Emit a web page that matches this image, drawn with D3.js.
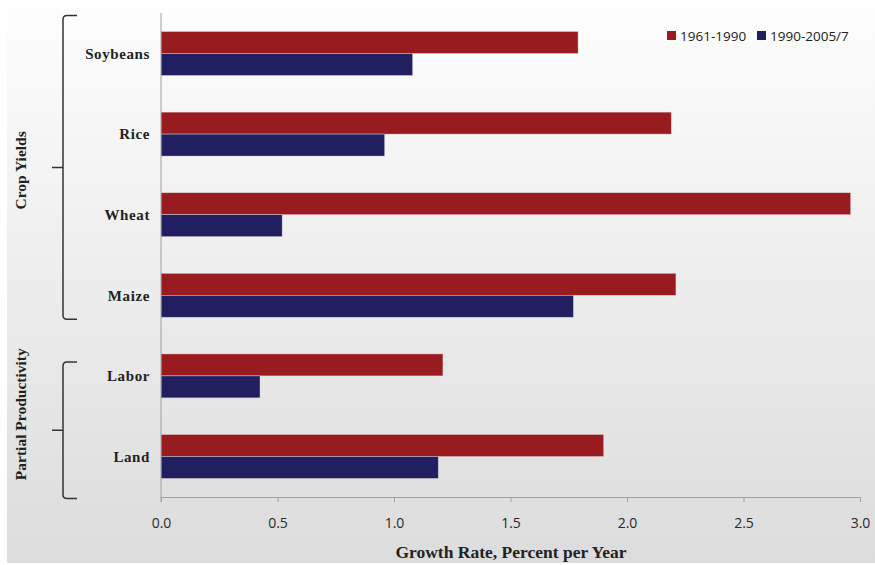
<!DOCTYPE html>
<html><head><meta charset="utf-8">
<script src="https://cdn.jsdelivr.net/npm/d3@7"></script>
<style>html,body{margin:0;padding:0;background:#fff}</style>
</head><body>
<svg id="c" width="875" height="565"></svg>
<script>
const categories = ["Soybeans","Rice","Wheat","Maize","Labor","Land"];
const series = ["1961-1990","1990-2005/7"];
const values1961 = [1.79, 2.19, 2.96, 2.21, 1.21, 1.90];
const values1990 = [1.08, 0.96, 0.52, 1.77, 0.425, 1.19];
const xTicks = [0, 0.5, 1.0, 1.5, 2.0, 2.5, 3.0];
const groups = [{name:"Crop Yields", from:"Soybeans", to:"Maize"},{name:"Partial Productivity", from:"Labor", to:"Land"}];
const colors = ["#981b20","#211f5f"];

(function(){
const svg = d3.select("#c");
const W=875,H=565;
const defs = svg.append("defs");
const g = defs.append("linearGradient").attr("id","bg").attr("x1",0).attr("y1",0).attr("x2",0).attr("y2",1);
g.append("stop").attr("offset","0%").attr("stop-color","#fefefe");
g.append("stop").attr("offset","100%").attr("stop-color","#dcdcdc");
svg.append("rect").attr("x",7).attr("y",0).attr("width",W-7).attr("height",563).attr("fill","url(#bg)");

const mL=161, mR=860, mT=13, mB=497;
const x = d3.scaleLinear().domain([0,3]).range([mL,mR]);
const y = d3.scaleBand().domain(categories).range([mT,mB]).paddingInner(0.455).paddingOuter(0.23);
const data = categories.map((c,i)=>({c, v:[values1961[i], values1990[i]]}));
const bh = y.bandwidth()/2;

const barG = svg.append("g");
data.forEach(d=>{
  d.v.forEach((v,j)=>{
    barG.append("rect").attr("x",x(0)).attr("y",y(d.c)+j*bh).attr("width",x(v)-x(0)).attr("height",bh)
      .attr("fill",colors[j]).attr("stroke","#e8d8d8").attr("stroke-width",0.6).attr("stroke-opacity",0.7);
  });
});

const xa = svg.append("g").attr("transform",`translate(0,${mB})`)
  .call(d3.axisBottom(x).tickValues(xTicks).tickFormat(d3.format(".1f")).tickSize(5).tickPadding(16));
xa.select(".domain").attr("stroke","#a0a0a0");
xa.selectAll(".tick line").attr("stroke","#a0a0a0");
xa.selectAll("text").attr("font-family","Open Sans, sans-serif").attr("font-size",14).attr("fill","#2a2a2a");

svg.append("line").attr("x1",mL).attr("x2",mL).attr("y1",mT).attr("y2",mB+5).attr("stroke","#a0a0a0");

svg.append("g").selectAll("text").data(categories).join("text")
  .attr("x",150).attr("y",d=>y(d)+y.bandwidth()/2).attr("dy","0.35em").attr("text-anchor","end")
  .attr("font-family","Liberation Serif, serif").attr("font-weight","bold").attr("font-size",15)
  .attr("letter-spacing",0.6).attr("fill","#222")
  .text(d=>d);

// bracket extents relative to the bands (top offset, bottom offset)
const ext = [[-16, 2], [8, 20]];
groups.forEach((gr,i)=>{
  const y0 = y(gr.from)+ext[i][0], y1 = y(gr.to)+y.bandwidth()+ext[i][1];
  const ym = (y0+y1)/2;
  const bx=63, r=4;
  svg.append("path").attr("fill","none").attr("stroke","#333").attr("stroke-width",1.5)
    .attr("d",`M${bx+14},${y0} L${bx+r},${y0} Q${bx},${y0} ${bx},${y0+r} L${bx},${y1-r} Q${bx},${y1} ${bx+r},${y1} L${bx+14},${y1} M${bx},${ym} L${bx-11},${ym}`);
  svg.append("text").attr("transform",`translate(26,${ym+(i===0?3:-16)}) rotate(-90)`).attr("text-anchor","middle")
    .attr("font-family","Liberation Serif, serif").attr("font-weight","bold").attr("font-size",15.5).attr("fill","#222")
    .text(gr.name);
});

svg.append("text").attr("x",511).attr("y",558).attr("text-anchor","middle")
  .attr("font-family","Liberation Serif, serif").attr("font-weight","bold").attr("font-size",17.5).attr("fill","#222")
  .text("Growth Rate, Percent per Year");

const lg = svg.append("g");
const lx=[667,757];
series.forEach((s,i)=>{
  lg.append("rect").attr("x",lx[i]).attr("y",31).attr("width",9).attr("height",9).attr("fill",colors[i]);
  lg.append("text").attr("x",lx[i]+13).attr("y",36).attr("dy","0.35em").attr("font-family","Open Sans, sans-serif")
    .attr("font-size",13.5).attr("fill","#222").text(s);
});
})();
</script>
</body></html>
